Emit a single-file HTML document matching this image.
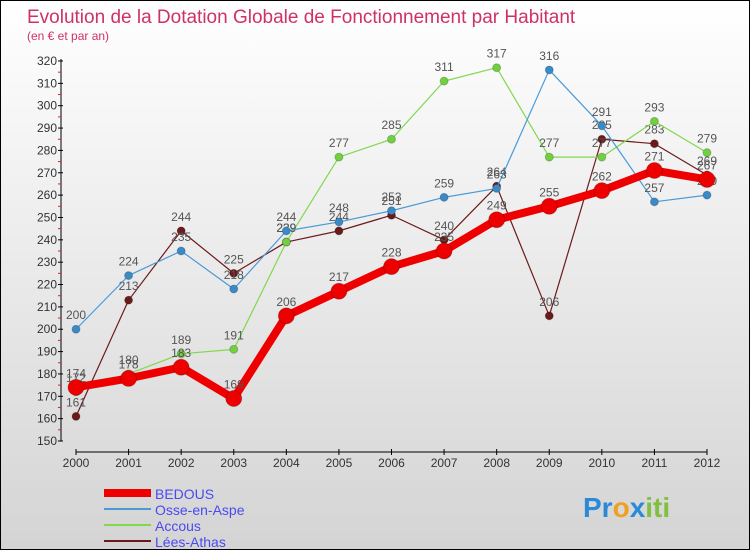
<!DOCTYPE html>
<html><head><meta charset="utf-8"><style>
body{margin:0}
#c{width:748px;height:548px;border:1px solid #000;background:linear-gradient(#fff,#d4d4d4);position:relative;font-family:"Liberation Sans",sans-serif;overflow:hidden}
svg text{font-family:"Liberation Sans",sans-serif}
</style></head><body>
<div id="c">
<svg id="s" width="748" height="548">
<text x="26" y="22" font-size="19" fill="#d0306a">Evolution de la Dotation Globale de Fonctionnement par Habitant</text>
<text x="26" y="39" font-size="12" fill="#d0306a">(en € et par an)</text>
<g id="axes"></g><g id="series"></g><g id="legend"></g>
<text x="582" y="516" font-size="28" font-weight="bold"><tspan fill="#2a8ad8">Pr</tspan><tspan fill="#f0a020">o</tspan><tspan fill="#2a8ad8">x</tspan><tspan fill="#80c040">iti</tspan></text>
</svg></div>
<script>
const years=[2000,2001,2002,2003,2004,2005,2006,2007,2008,2009,2010,2011,2012];
const yTicks=[150,160,170,180,190,200,210,220,230,240,250,260,270,280,290,300,310,320];
const seriesNames=["BEDOUS","Osse-en-Aspe","Accous","Lées-Athas"];
const bedous=[174,178,183,169,206,217,228,235,249,255,262,271,267];
const osse=[200,224,235,218,244,248,253,259,263,316,291,257,260];
const accous=[172,180,189,191,239,277,285,311,317,277,277,293,279];
const lees=[161,213,244,225,239,244,251,240,264,206,285,283,269];
const NS="http://www.w3.org/2000/svg";
const X0=75,X1=706,Y0=440,Y1=60,VMIN=150,VMAX=320;
const xs=i=>X0+(X1-X0)*i/(years.length-1);
const ys=v=>Y0-(v-VMIN)*(Y0-Y1)/(VMAX-VMIN);
function mk(t,a,p){const e=document.createElementNS(NS,t);for(const k in a)e.setAttribute(k,a[k]);p.appendChild(e);return e;}
const ax=document.getElementById('axes');
let e=mk('line',{x1:60,y1:Y1-2,x2:60,y2:Y0,stroke:'#000'},ax);


e=mk('line',{x1:X0,y1:451,x2:X1,y2:451,stroke:'#000'},ax);


yTicks.forEach((v,i)=>{const y=ys(v);
 mk('line',{x1:57,y1:y,x2:62,y2:y,stroke:'#000'},ax);
 if(i<yTicks.length-1)mk('line',{x1:57,y1:ys(v+5),x2:60,y2:ys(v+5),stroke:'#e02020'},ax);
 const t=mk('text',{x:56,y:y+4,'font-size':12,'text-anchor':'end',fill:'#333'},ax);t.textContent=v;
 
 });
years.forEach((yr,i)=>{const x=xs(i);
 mk('line',{x1:x,y1:448,x2:x,y2:454,stroke:'#000'},ax);
 const t=mk('text',{x:x,y:466,'font-size':12,'text-anchor':'middle',fill:'#333'},ax);t.textContent=yr;
 
 });
const sg=document.getElementById('series');
const defs=[[lees,'#6b1a1a',1.2,4,'lees-athas'],[accous,'#80d850',1.2,4,'accous'],[osse,'#4a9ad8',1.2,4,'osse-en-aspe'],[bedous,'#ee0000',8,8,'bedous']];
const fills={'lees-athas':'#6b1a1a','accous':'#70d040','osse-en-aspe':'#3a8ac8','bedous':'#ee0000'};
defs.forEach(([d,c,w,r,n])=>{
 const p=mk('polyline',{points:d.map((v,i)=>xs(i)+','+ys(v)).join(' '),fill:'none',stroke:c,'stroke-width':w,'stroke-linejoin':'round'},sg);
 
 
 d.forEach((v,i)=>{const m=mk('circle',{cx:xs(i),cy:ys(v),r:r,fill:fills[n],stroke:'#0003'},sg);
  
  
  const t=mk('text',{x:xs(i),y:ys(v)-10,'font-size':12,'text-anchor':'middle',fill:'#555'},sg);t.textContent=v;
  
  });
});
const lg=document.getElementById('legend');
const lc=[['#ee0000',8],['#4a9ad8',2],['#80d850',2],['#6b1a1a',2]];
seriesNames.forEach((n,i)=>{const y=492+i*16;
 const l=mk('line',{x1:103,y1:y,x2:150,y2:y,stroke:lc[i][0],'stroke-width':lc[i][1]},lg);
 
 
 const t=mk('text',{x:154,y:y+6,'font-size':14,fill:'#4a4af0'},lg);t.textContent=n;
 
 });
</script>
</body></html>
